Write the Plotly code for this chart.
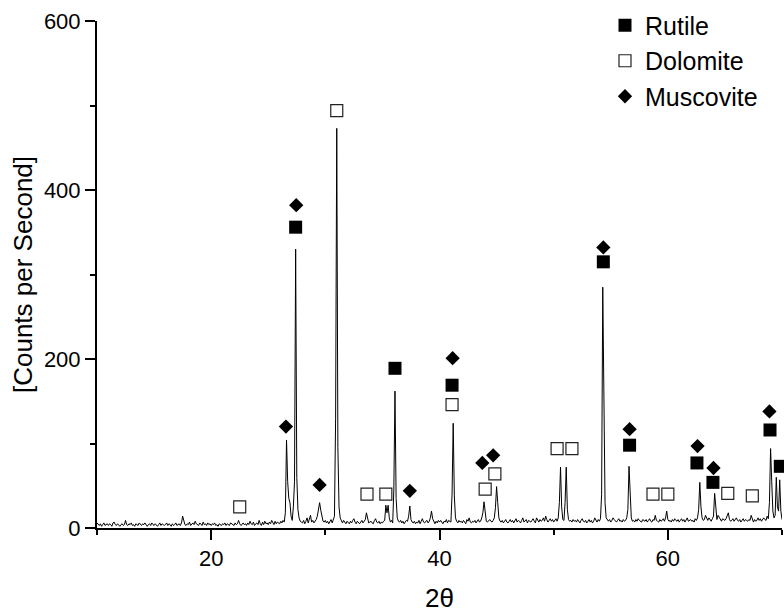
import numpy as np
import plotly.graph_objects as go

# Powder XRD scan: 2-theta from 10.0 to 70.0 deg in 0.1 deg steps
scan_start, scan_stop, scan_step = 10.0, 70.0, 0.1
two_theta = np.round(np.arange(scan_start, scan_stop + scan_step / 2, scan_step), 2)

# Counts per second, one row per degree (x.0 ... x.9)
counts = [
    6, 4, 3, 5, 2, 4, 6, 3, 4, 5,          # 10
    3, 5, 4, 2, 6, 7, 4, 3, 5, 4,          # 11
    2, 4, 5, 3, 4, 9, 4, 3, 5, 4,          # 12
    6, 3, 4, 2, 5, 4, 3, 6, 4, 3,          # 13
    5, 4, 6, 3, 2, 4, 5, 3, 6, 4,          # 14
    3, 5, 4, 2, 4, 6, 3, 5, 4, 3,          # 15
    4, 6, 3, 5, 4, 2, 5, 3, 4, 6,          # 16
    3, 4, 5, 3, 6, 14, 7, 4, 3, 5,         # 17
    4, 7, 3, 5, 6, 4, 8, 5, 4, 3,          # 18
    6, 5, 3, 7, 4, 5, 3, 6, 4, 5,          # 19
    3, 5, 4, 6, 3, 4, 2, 5, 4, 3,          # 20
    5, 4, 6, 3, 5, 4, 3, 6, 5, 4,          # 21
    3, 6, 4, 5, 9, 5, 3, 4, 6, 4,          # 22
    5, 3, 6, 4, 8, 5, 4, 7, 3, 5,          # 23
    6, 4, 9, 5, 3, 7, 4, 8, 5, 6,          # 24
    4, 7, 5, 9, 6, 4, 8, 5, 7, 6,          # 25
    5, 8, 6, 9, 7, 18, 104, 55, 35, 30,    # 26
    14, 9, 25, 55, 330, 60, 22, 12, 8, 7,  # 27
    6, 9, 5, 8, 12, 6, 10, 15, 7, 9,       # 28
    6, 8, 10, 14, 22, 30, 21, 12, 8, 7,    # 29
    9, 6, 8, 5, 7, 10, 6, 9, 14, 130,      # 30
    473, 95, 25, 12, 8, 6, 9, 7, 5, 8,     # 31
    7, 5, 8, 6, 9, 11, 7, 5, 8, 6,         # 32
    5, 7, 9, 6, 8, 10, 18, 9, 6, 7,        # 33
    8, 6, 5, 9, 11, 7, 6, 8, 5, 7,         # 34
    6, 8, 9, 27, 18, 27, 12, 7, 9, 6,      # 35
    45, 162, 35, 12, 8, 7, 9, 6, 8, 5,     # 36
    7, 9, 8, 14, 26, 10, 7, 6, 8, 5,       # 37
    7, 6, 9, 5, 8, 11, 7, 6, 8, 9,         # 38
    6, 8, 12, 20, 11, 7, 5, 8, 6, 9,       # 39
    7, 9, 6, 5, 8, 7, 10, 6, 9, 8,         # 40
    7, 40, 124, 38, 12, 8, 6, 9, 7, 8,     # 41
    6, 9, 7, 5, 10, 8, 12, 7, 6, 8,        # 42
    7, 9, 6, 8, 10, 7, 8, 12, 18, 31,      # 43
    14, 8, 7, 9, 10, 8, 7, 9, 12, 24,      # 44
    49, 30, 12, 8, 7, 9, 6, 8, 10, 7,      # 45
    6, 8, 10, 7, 9, 6, 8, 11, 7, 9,        # 46
    8, 6, 9, 12, 7, 8, 10, 6, 9, 8,        # 47
    7, 9, 11, 8, 6, 12, 9, 7, 10, 8,       # 48
    9, 12, 8, 14, 10, 7, 9, 11, 8, 10,     # 49
    7, 9, 11, 8, 12, 30, 72, 25, 10, 9,    # 50
    30, 72, 22, 10, 8, 9, 7, 10, 8, 9,     # 51
    7, 10, 8, 6, 9, 11, 8, 7, 9, 6,        # 52
    8, 10, 7, 9, 6, 8, 12, 9, 7, 10,       # 53
    8, 11, 40, 285, 175, 30, 12, 9, 8, 10, # 54
    7, 9, 12, 10, 8, 7, 9, 11, 8, 9,       # 55
    7, 10, 8, 9, 12, 22, 73, 30, 12, 8,    # 56
    9, 7, 10, 8, 11, 9, 8, 7, 10, 9,       # 57
    8, 10, 7, 9, 11, 8, 7, 10, 9, 15,      # 58
    9, 8, 7, 10, 8, 9, 11, 8, 12, 20,      # 59
    10, 8, 9, 7, 10, 8, 11, 9, 8, 10,      # 60
    7, 9, 11, 8, 10, 7, 9, 12, 8, 9,       # 61
    10, 8, 9, 7, 11, 9, 12, 22, 54, 25,    # 62
    12, 9, 10, 15, 11, 9, 12, 10, 8, 11,   # 63
    14, 41, 20, 10, 15, 12, 9, 8, 11, 10,  # 64
    9, 11, 14, 18, 10, 8, 9, 11, 8, 10,    # 65
    12, 9, 8, 10, 7, 9, 11, 8, 10, 9,      # 66
    8, 10, 9, 15, 9, 7, 10, 8, 9, 12,      # 67
    9, 11, 8, 10, 12, 10, 9, 14, 11, 30,   # 68
    94, 55, 20, 12, 15, 60, 25, 20, 57, 20, # 69
    10,                                     # 70
]

# Phase identification marks (2-theta, counts)
rutile_x = [27.4, 36.1, 41.1, 54.35, 56.65, 62.55, 63.95, 68.95, 69.85]
rutile_y = [356, 189, 169, 315, 98, 77, 54, 116, 73]

dolomite_x = [22.5, 31.0, 33.65, 35.3, 41.1, 44.0, 44.85, 50.3, 51.6,
              58.7, 60.0, 65.25, 67.4]
dolomite_y = [25, 494, 40, 40, 146, 46, 64, 94, 94, 40, 40, 41, 38]

muscovite_x = [26.55, 27.45, 29.5, 37.4, 41.15, 43.75, 44.7, 54.35,
               56.65, 62.6, 64.0, 68.9, 70.05]
muscovite_y = [120, 382, 51, 44, 201, 77, 86, 332, 117, 97, 71, 138, 96]

x_ticks = [20, 40, 60]
y_ticks = [0, 200, 400, 600]

FONT = "Liberation Sans, Arial, sans-serif"

fig = go.Figure()

fig.add_trace(go.Scatter(
    x=two_theta, y=counts, mode="lines",
    line=dict(color="black", width=1),
    showlegend=False, hoverinfo="x+y",
))

fig.add_trace(go.Scatter(
    x=rutile_x, y=rutile_y, mode="markers", name="Rutile",
    marker=dict(symbol="square", size=13, color="black"),
    cliponaxis=False, legendgroup="r",
))
fig.add_trace(go.Scatter(
    x=dolomite_x, y=dolomite_y, mode="markers", name="Dolomite",
    marker=dict(symbol="square-open", size=12, color="#222222",
                line=dict(width=1.2, color="#222222")),
    cliponaxis=False, legendgroup="d",
))
fig.add_trace(go.Scatter(
    x=muscovite_x, y=muscovite_y, mode="markers", name="Muscovite",
    marker=dict(symbol="diamond", size=11, color="black"),
    cliponaxis=False, legendgroup="m",
))

axis_common = dict(
    showline=True, linecolor="black", linewidth=2,
    ticks="outside", ticklen=10, tickwidth=2, tickcolor="black",
    showgrid=False, zeroline=False, mirror=False,
    tickfont=dict(family=FONT, size=22, color="black"),
)

fig.update_layout(
    width=784, height=615,
    margin=dict(l=97, r=2, t=21, b=87),
    paper_bgcolor="white", plot_bgcolor="white",
    font=dict(family=FONT, color="black"),
    xaxis=dict(
        range=[10, 70], tickvals=x_ticks,
        minor=dict(dtick=10, tick0=0, ticklen=5, tickwidth=2,
                   tickcolor="black", ticks="outside", showgrid=False),
        title=dict(text="2θ", font=dict(family=FONT, size=26), standoff=18),
        **axis_common,
    ),
    yaxis=dict(
        range=[0, 600], tickvals=y_ticks,
        minor=dict(dtick=100, tick0=0, ticklen=5, tickwidth=2,
                   tickcolor="black", ticks="outside", showgrid=False),
        title=dict(text="[Counts per Second]", font=dict(family=FONT, size=26),
                   standoff=4),
        **axis_common,
    ),
    legend=dict(
        x=0.7416, y=1.0365, xanchor="left", yanchor="top",
        font=dict(family=FONT, size=25, color="black"),
        bgcolor="rgba(0,0,0,0)", borderwidth=0,
        tracegroupgap=0, itemsizing="trace",
    ),
)

fig.write_html("out.html")
